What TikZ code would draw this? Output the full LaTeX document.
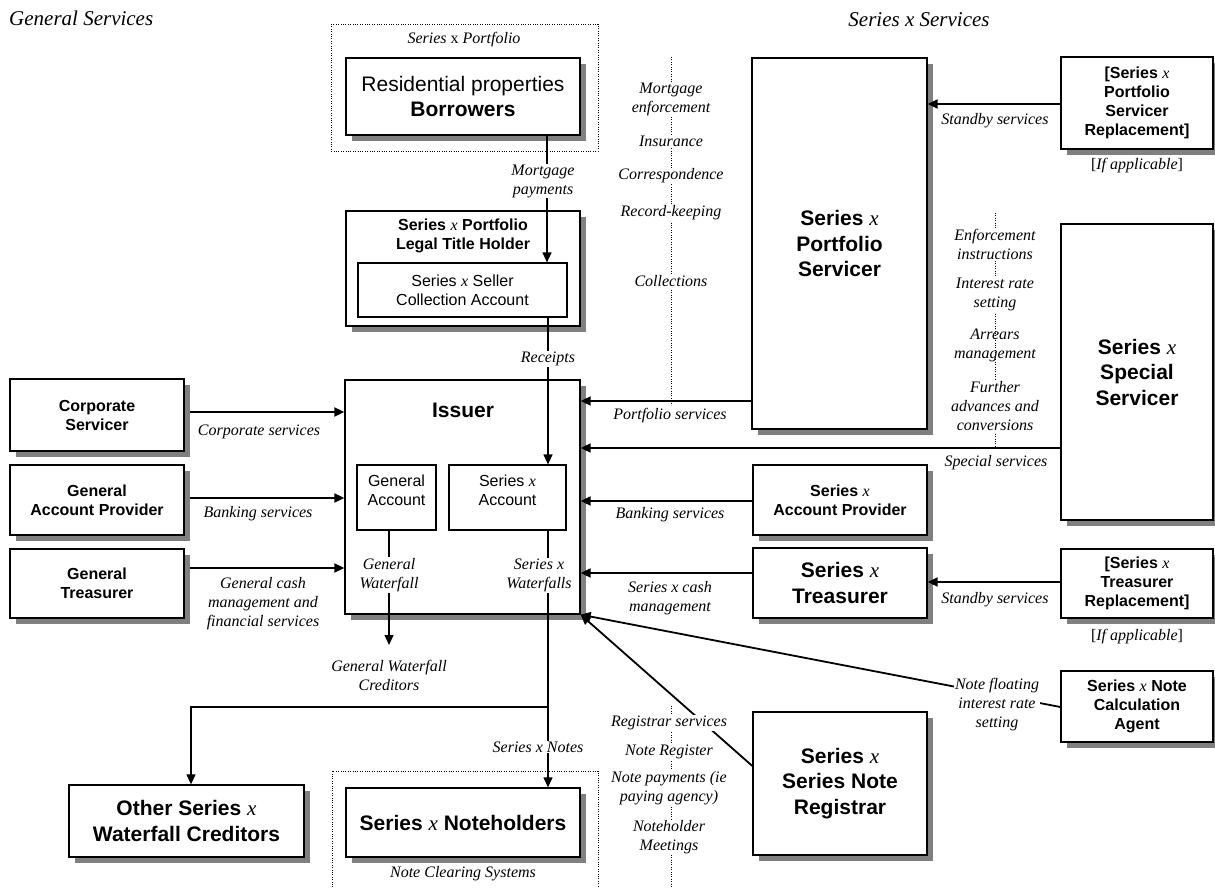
\documentclass[tikz,border=0pt]{standalone}
\usepackage{fontspec}
\setmainfont{Liberation Sans}
\newfontfamily\tms{Liberation Serif}
\usetikzlibrary{shadows,arrows.meta,calc}
\newcommand\xx{{\tms\mdseries\itshape x}}
\newcommand\fsm{\fontsize{16}{19}\selectfont}
\newcommand\fbig{\fontsize{21}{25.5}\selectfont}
\begin{document}
\begin{tikzpicture}[x=1pt,y=-1pt,
 box/.style={draw, line width=1.3pt, fill=white, inner sep=0pt, align=center,
   drop shadow={shadow xshift=6pt, shadow yshift=-6pt, fill=black!50, opacity=1, draw=none}},
 inbox/.style={draw, line width=1.2pt, fill=white, inner sep=0pt, align=center},
 sb/.style={font=\fsm\bfseries, align=center},
 bb/.style={font=\fbig\bfseries, align=center},
 rg/.style={font=\fsm, align=center},
 lbl/.style={font=\tms\itshape\fsm, align=center, inner sep=1pt},
 wl/.style={lbl, fill=white},
 arr/.style={line width=1.8pt, -{Triangle[length=10pt,width=9pt]}},
 tarr/.style={line width=1.2pt, -{Triangle[length=10pt,width=9pt]}},
 dots/.style={line width=0.7pt, dash pattern=on 0.8pt off 1.6pt},
]
\useasboundingbox (0,0) rectangle (1215,888);
\fill[white] (0,0) rectangle (1215,888);

% headings
\node[lbl, anchor=west, font=\tms\itshape\fontsize{21}{25}\selectfont] (gs) at (8,18) {General Services};
\node[lbl, font=\tms\itshape\fontsize{21}{25}\selectfont] (xs) at (919,20) {Series x Services};

% dotted groups and dividers
\draw[dots] (331,24) rectangle (598,151);
\draw[dots] (332,892) -- (332,771) -- (598,771) -- (598,892);
\draw[dots] (671,57) -- (671,405);
\draw[dots] (995,213) -- (995,447);
\draw[dots] (671,706) -- (671,892);
\node[font=\tms\fsm, inner sep=1pt] (pft) at (464,40) {\textit{Series} x \textit{Portfolio}};
\node[lbl] (ncs) at (463,874) {Note Clearing Systems};

% boxes
\node[box, minimum width=234pt, minimum height=77pt, font=\fbig] (bor) at (463,96.5) {Residential properties\\\textbf{Borrowers}};
\node[box, minimum width=234pt, minimum height=115pt] (lth) at (463,268.5) {};
\node[sb] (ltht) at (463,236) {Series \xx{} Portfolio\\Legal Title Holder};
\node[inbox, rg, minimum width=209pt, minimum height=54pt] (sca) at (462.5,290) {Series \xx{} Seller\\Collection Account};

\node[box, bb, minimum width=175pt, minimum height=371pt] (ps) at (839.5,243.5) {Series \xx\\Portfolio\\Servicer};
\node[box, sb, minimum width=152pt, minimum height=92pt] (psr) at (1137,103) {[Series \xx\\Portfolio\\Servicer\\Replacement]};
\node[box, bb, minimum width=152pt, minimum height=296pt] (ss) at (1137,372) {Series \xx\\Special\\Servicer};

\node[box, sb, minimum width=174pt, minimum height=72pt] (cs) at (97,415) {Corporate\\Servicer};
\node[box, sb, minimum width=174pt, minimum height=70pt] (gap) at (97,500) {General\\Account Provider};
\node[box, sb, minimum width=174pt, minimum height=69pt] (gt) at (97,583.5) {General\\Treasurer};

\node[box, minimum width=235pt, minimum height=234pt] (iss) at (462.5,497) {};
\node[bb] (isst) at (463,410) {Issuer};
\node[inbox, minimum width=79pt, minimum height=65pt] (ga) at (396.5,497.5) {};
\node[rg] (gat) at (396.5,490.5) {General\\Account};
\node[inbox, minimum width=117pt, minimum height=65pt] (sxa) at (507.5,497.5) {};
\node[rg] (sxat) at (507.5,490.5) {Series \xx\\Account};

\node[box, sb, minimum width=174pt, minimum height=70pt] (sap) at (840,500) {Series \xx\\Account Provider};
\node[box, bb, minimum width=174pt, minimum height=70pt] (str) at (840,583) {Series \xx\\Treasurer};
\node[box, sb, minimum width=152pt, minimum height=69pt] (trr) at (1137,583.5) {[Series \xx\\Treasurer\\Replacement]};
\node[box, sb, minimum width=152pt, minimum height=71pt] (nca) at (1137,706.5) {Series \xx{} Note\\Calculation\\Agent};
\node[box, bb, minimum width=174pt, minimum height=143pt] (reg) at (840,783.5) {Series \xx\\Series Note\\Registrar};
\node[box, bb, minimum width=235pt, minimum height=72pt] (owc) at (186.5,821) {Other Series \xx\\Waterfall Creditors};
\node[box, bb, minimum width=234pt, minimum height=69pt] (nh) at (463,822.5) {Series \xx{} Noteholders};

% connectors
\coordinate (gwc) at (389,645);
\coordinate (br) at (548,707);
\draw[tarr] (bor.south -| 547,0) -- (sca.north -| 547,0);
\draw[tarr] (sca.south -| 548,0) -- (sxa.north -| 548,0);
\draw[tarr] (ga.south -| 389,0) -- (gwc);
\draw[tarr] (sxa.south -| 548,0) -- (nh.north -| 548,0);
\draw[tarr] (br) -| (owc.north -| 191,0);

\draw[arr] (cs.east |- 0,412) ++(5,0) -- (iss.west |- 0,412);
\draw[arr] (gap.east |- 0,498) ++(5,0) -- (iss.west |- 0,498);
\draw[arr] (gt.east |- 0,568) ++(5,0) -- (iss.west |- 0,568);

\draw[arr] (ps.west |- 0,401) -- (iss.east |- 0,401);
\draw[arr] (ss.west |- 0,448) -- (iss.east |- 0,448);
\draw[arr] (sap.west |- 0,501) -- (iss.east |- 0,501);
\draw[arr] (str.west |- 0,573) -- (iss.east |- 0,573);
\draw[arr] (psr.west |- 0,104) -- (ps.east |- 0,104);
\draw[arr] (trr.west |- 0,582) -- (str.east |- 0,582);
\draw[arr] (reg.west |- 0,766) -- (iss.south east);
\draw[arr] (nca.west |- 0,707) -- (iss.south east);

% connector labels
\node[wl] (lmp) at (543,181) {Mortgage\\payments};
\node[wl] (lrc) at (548,359) {Receipts};
\node[lbl] (lcs) at (259,432) {Corporate services};
\node[lbl] (lbs1) at (258,514) {Banking services};
\node[lbl] (lgc) at (263,604) {General cash\\management and\\financial services};
\node[wl] (lgw) at (389,575) {General\\Waterfall};
\node[lbl] (lgwc) at (389,675) {General Waterfall\\Creditors};
\node[wl] (lsw) at (539,575) {Series x\\Waterfalls};
\node[wl] (lsn) at (538,747) {Series x Notes};
\node[lbl] (lps) at (670,416) {Portfolio services};
\node[lbl] (lss) at (996,463) {Special services};
\node[lbl] (lbs2) at (670,515) {Banking services};
\node[lbl] (lsc) at (670,598.5) {Series x cash\\management};
\node[lbl] (lsb1) at (995,121) {Standby services};
\node[lbl] (lsb2) at (995,600) {Standby services};
\node[font=\tms\fsm, inner sep=1pt] (lia1) at (1137,166) {[\textit{If applicable}]};
\node[font=\tms\fsm, inner sep=1pt] (lia2) at (1137,637) {[\textit{If applicable}]};
\node[wl] (lnf) at (997,705) {Note floating\\interest rate\\setting};

% service lists
\node[wl] (m1) at (671,99) {Mortgage\\enforcement};
\node[wl] (m2) at (671,141) {Insurance};
\node[wl] (m3) at (671,176) {Correspondence};
\node[wl] (m4) at (671,213) {Record-keeping};
\node[wl] (m5) at (671,281) {Collections};
\node[wl] (s1) at (995,244.5) {Enforcement\\instructions};
\node[wl] (s2) at (995,294.5) {Interest rate\\setting};
\node[lbl] (s3) at (995,345.5) {Arrears\\management};
\node[wl] (s4) at (995,406) {Further\\advances and\\conversions};
\node[wl] (r1) at (669,723) {Registrar services};
\node[wl] (r2) at (669,752) {Note Register};
\node[wl] (r3) at (669,788.5) {Note payments (ie\\paying agency)};
\node[wl] (r4) at (669,837.5) {Noteholder\\Meetings};
\end{tikzpicture}
\end{document}
